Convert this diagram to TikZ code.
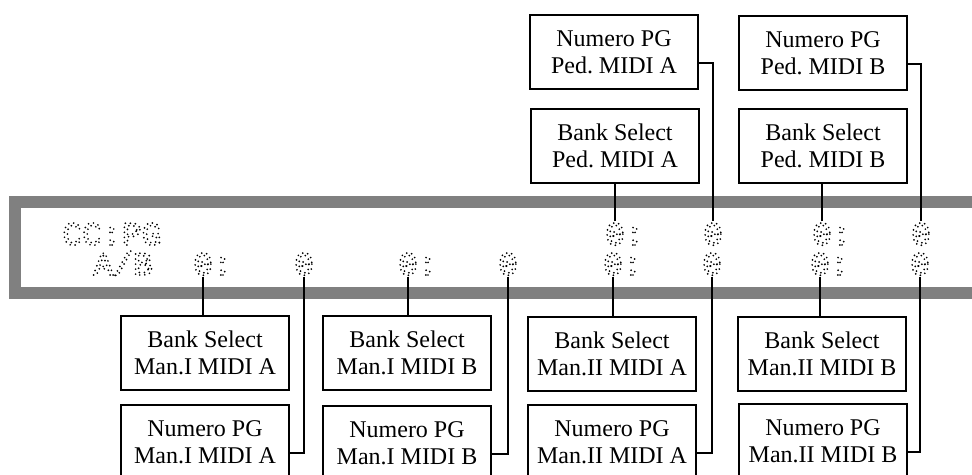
\documentclass[tikz,border=0pt]{standalone}
\usepackage{fontspec}
\setmainfont{Liberation Serif}
\newfontfamily\lcdfont{Liberation Mono}
\usetikzlibrary{positioning}
\frenchspacing

% dot matrix look for the display text
\newcommand\lcdtext[1]{\special{pdf:literal direct q 1 Tr 0.95 w 1 J 1 j [0 2.5] 0 d}#1\special{pdf:literal direct Q}}

\begin{document}
\begin{tikzpicture}[
      x=0.5pt, y=-0.5pt,
      box/.style={rectangle, draw, line width=1pt, minimum width=84pt, minimum height=37pt,
                  align=center, font=\fontsize{12}{13.5}\selectfont},
      lcd/.style={inner sep=0.6pt, anchor=base, font=\lcdfont\fontsize{16.5}{16.5}\selectfont},
      frame/.style={draw=gray, line width=6pt},
      line/.style={draw, line width=1pt}
    ]
    \useasboundingbox (0,0) rectangle (972,475);
    \clip (0,0) rectangle (972,475);
    % display
    \draw[frame] (15,202) rectangle (1010,293);
    \node[lcd, anchor=base west, inner sep=0pt] (cc) at (62,245) {\lcdtext{CC:PG}};
    \node[lcd, anchor=base west, inner sep=0pt] (ab) at (93,275) {\lcdtext{A/B}};
    \foreach \i/\x/\t in {1/203/{0\rlap{:}}, 2/304/0, 3/408/{0\rlap{:}}, 4/508/0,
                          5/613/{0\rlap{:}}, 6/712/0, 7/820/{0\rlap{:}}, 8/920/0} {
        \node[lcd] (z\i) at (\x,275) {\lcdtext{\t}};
    }
    \foreach \i/\x/\t in {5/615/{0\rlap{:}}, 6/713/0, 7/822/{0\rlap{:}}, 8/921/0} {
        \node[lcd] (y\i) at (\x,245) {\lcdtext{\t}};
    }
    % pedal
    \node[box] (nPedA) at (614,52) {Numero PG\\Ped. MIDI A};
    \node[box] (nPedB) at (823,53) {Numero PG\\Ped. MIDI B};
    \node[box] (bPedA) at (615,146) {Bank Select\\Ped. MIDI A};
    \node[box] (bPedB) at (823,146) {Bank Select\\Ped. MIDI B};
    % manuals
    \node[box] (bManIA) at (205,353) {Bank Select\\Man.I MIDI A};
    \node[box] (bManIB) at (407,353) {Bank Select\\Man.I MIDI B};
    \node[box] (bManIIA) at (612,354) {Bank Select\\Man.II MIDI A};
    \node[box] (bManIIB) at (822,354) {Bank Select\\Man.II MIDI B};
    \node[box] (nManIA) at (205,442) {Numero PG\\Man.I MIDI A};
    \node[box] (nManIB) at (407,443) {Numero PG\\Man.I MIDI B};
    \node[box] (nManIIA) at (612,442) {Numero PG\\Man.II MIDI A};
    \node[box] (nManIIB) at (823,441) {Numero PG\\Man.II MIDI B};
    % connectors
    \foreach \b/\z in {bPedA/y5, bPedB/y7}
        \draw[line] (\z.north) -- (\z.north |- \b.south);
    \foreach \n/\z in {nPedA/y6, nPedB/y8}
        \draw[line] ([yshift=-5.5pt]\n.east) -| (\z.north);
    \foreach \b/\z in {bManIA/z1, bManIB/z3, bManIIA/z5, bManIIB/z7}
        \draw[line] (\z.south) -- (\z.south |- \b.north);
    \foreach \n/\z in {nManIA/z2, nManIB/z4, nManIIA/z6, nManIIB/z8}
        \draw[line] ([yshift=-5.5pt]\n.east) -| (\z.south);
\end{tikzpicture}
\end{document}
